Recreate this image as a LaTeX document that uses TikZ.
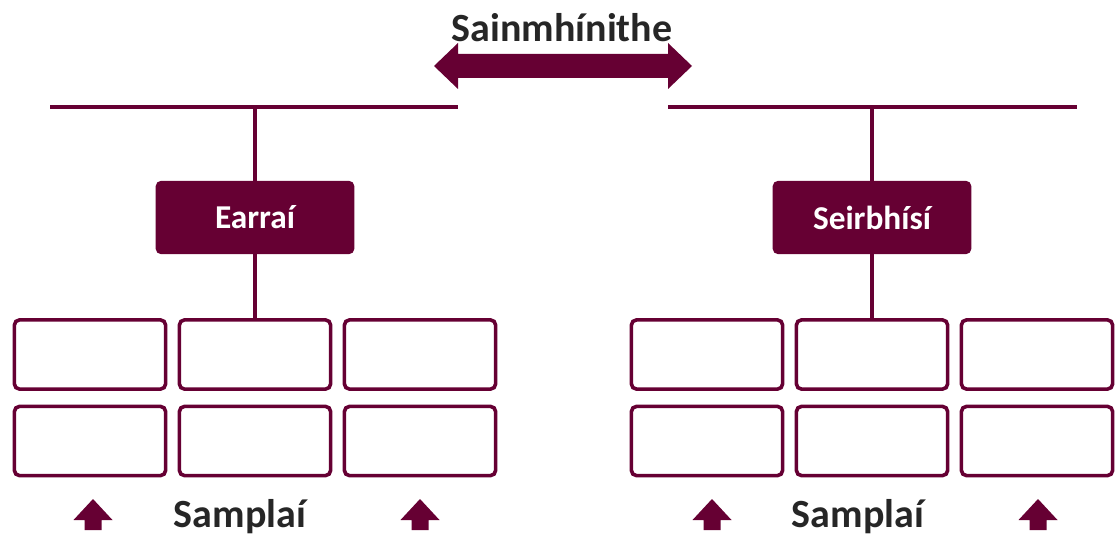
\documentclass[tikz,border=0pt]{standalone}
\usepackage{fontspec}
\setmainfont{Carlito}
\usetikzlibrary{positioning}
\definecolor{wine}{HTML}{660033}
\definecolor{inkgray}{HTML}{262626}

\begin{document}
\begin{tikzpicture}[
    x=0.75pt, y=-0.75pt,
    catblock/.style={
        rectangle,
        fill=wine,
        rounded corners=4pt,
        minimum width=149pt,
        minimum height=55pt,
        text=white,
        font=\fontsize{25}{30}\selectfont\bfseries
    },
    cellblock/.style={
        rectangle,
        draw=wine,
        line width=2.7pt,
        rounded corners=4pt,
        minimum width=113.5pt,
        minimum height=52pt,
        fill=white
    },
    heading/.style={
        text=inkgray,
        font=\fontsize{30}{36}\selectfont\bfseries,
        anchor=base,
        inner sep=0pt
    },
    bar/.style={draw=wine, line width=2.4pt},
    tipfill/.style={fill=wine}
]
\useasboundingbox (0,0) rectangle (1116,534);

% Title and double arrow
\node [heading] (title) at (562,42) {Sainmhínithe};
\fill [tipfill] (434,66) -- (458,43) -- (458,54) -- (668,54) -- (668,43)
    -- (692,66) -- (668,89) -- (668,78) -- (458,78) -- (458,89) -- cycle;

% Top bars
\coordinate (barLa) at (50,107);
\coordinate (barLb) at (458,107);
\coordinate (barRa) at (668,107);
\coordinate (barRb) at (1077,107);
\coordinate (hubL) at (255,107);
\coordinate (hubR) at (872,107);
\draw [bar] (barLa) -- (barLb);
\draw [bar] (barRa) -- (barRb);

% Category blocks
\node [catblock] (earrai) at (255,217.5) {Earraí};
\node [catblock] (seirbhisi) at (872,217.5) {Seirbhísí};

% Example cells
\foreach \side/\cx in {L/255, R/872}
    \foreach \col/\dx in {1/-165, 2/0, 3/165}
        \foreach \row/\cy in {1/354.5, 2/441}
            \node [cellblock] (\side\row\col) at (\cx+\dx,\cy) {};

% Connections
\draw [bar] (hubL) -- (earrai.north);
\draw [bar] (earrai.south) -- (L12.north);
\draw [bar] (hubR) -- (seirbhisi.north);
\draw [bar] (seirbhisi.south) -- (R12.north);

% Examples labels
\node [heading] (samplaL) at (240,527) {Samplaí};
\node [heading] (samplaR) at (858,527) {Samplaí};

% Up arrows
\foreach \ax in {93, 420, 712, 1038}
    \fill [tipfill] (\ax,499) -- (\ax+19.5,520) -- (\ax+8.5,520) -- (\ax+8.5,530)
        -- (\ax-8.5,530) -- (\ax-8.5,520) -- (\ax-19.5,520) -- cycle;

\end{tikzpicture}
\end{document}
